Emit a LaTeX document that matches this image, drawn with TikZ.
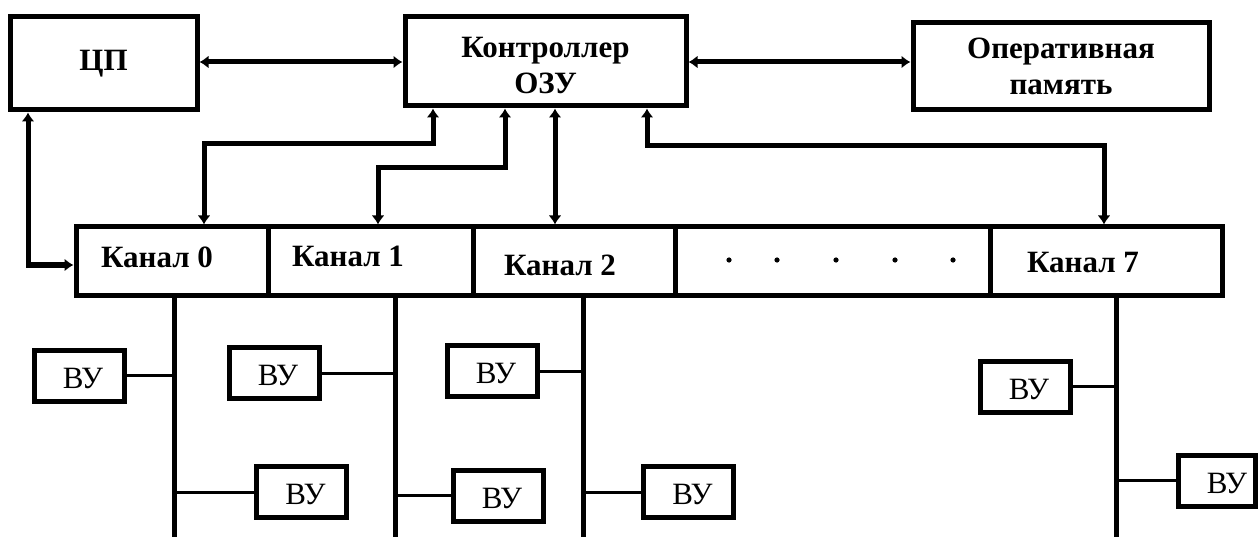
\documentclass[tikz,border=0pt]{standalone}
\usepackage{fontspec}
\setmainfont{Liberation Serif}
\usetikzlibrary{arrows.meta}
\begin{document}
\begin{tikzpicture}[x=1pt,y=-1pt,
  box/.style={draw,line width=5pt,inner sep=0pt,align=center,
    font=\bfseries\fontsize{31}{36}\selectfont},
  cell/.style={draw,line width=5pt,inner sep=0pt,minimum height=68pt},
  lbl/.style={inner sep=0pt,font=\bfseries\fontsize{31}{35}\selectfont},
  vu/.style={draw,line width=5pt,inner sep=0pt,minimum width=90pt,minimum height=51pt,
    font=\fontsize{31}{34}\selectfont},
  link/.style={line width=5pt},
  tie/.style={line width=3pt},
  biarr/.style={line width=5pt,{Latex[length=9pt,width=13pt]}-{Latex[length=9pt,width=13pt]}},
]
\fill[white] (0,0) rectangle (1260,537);
\clip (0,0) rectangle (1260,537);

% top boxes
\node[box,minimum width=187pt,minimum height=93pt] (cpu) at (103.5,63.5) {ЦП};
\node[box,minimum width=281pt,minimum height=89pt] (ctrl) at (545.5,61.5) {\rule{0pt}{28pt}Контроллер\\ОЗУ};
\node[box,minimum width=296pt,minimum height=87pt] (mem) at (1061,66.5) {Оперативная\\память};

% channel row
\node[cell,minimum width=192pt] (ch0) at (172,261) {};
\node[cell,minimum width=205pt] (ch1) at (370.5,261) {};
\node[cell,minimum width=202pt] (ch2) at (574,261) {};
\node[cell,minimum width=315pt] (chd) at (832.5,261) {};
\node[cell,minimum width=232pt] (ch7) at (1106,261) {};

\node[lbl] (t0) at (157,257) {Канал 0};
\node[lbl] (t1) at (348,256) {Канал 1};
\node[lbl] (t2) at (560,265) {Канал 2};
\node[lbl] (t7) at (1083,263) {Канал 7};

\foreach \x in {729,777,836,895,953} \fill (\x,260) circle (2.6pt);

% coordinates for connectors
\coordinate (h1) at (300,62);
\coordinate (a0) at (433,144);
\coordinate (b0) at (204,144);
\coordinate (a1) at (505,168);
\coordinate (b1) at (378,168);
\coordinate (c2) at (555,200);
\coordinate (a7) at (647,146);
\coordinate (b7) at (1104,146);
\coordinate (cp) at (28,265);

\draw[biarr] (cpu.east |- h1) -- (ctrl.west |- h1);
\draw[biarr] (ctrl.east |- h1) -- (mem.west |- h1);
\draw[biarr] (ctrl.south -| a0) -- (a0) -- (b0) -- (ch0.north -| b0);
\draw[biarr] (ctrl.south -| a1) -- (a1) -- (b1) -- (ch1.north -| b1);
\draw[biarr] (ctrl.south -| c2) -- (ch2.north -| c2);
\draw[biarr] (ctrl.south -| a7) -- (a7) -- (b7) -- (ch7.north -| b7);
\draw[biarr] (cpu.south -| cp) -- (cp) -- (ch0.west |- cp);

% channel buses
\coordinate (e0) at (174,545);
\coordinate (e1) at (395,545);
\coordinate (e2) at (583,545);
\coordinate (e7) at (1116,545);
\draw[link] (ch0.south -| e0) -- (e0);
\draw[link] (ch1.south -| e1) -- (e1);
\draw[link] (ch2.south -| e2) -- (e2);
\draw[link] (ch7.south -| e7) -- (e7);

% devices
\node[vu] (vu1) at (79,375.5) {\rule{0pt}{26pt}\hspace*{8pt}ВУ};
\node[vu] (vu2) at (274,373) {\rule{0pt}{26pt}\hspace*{8pt}ВУ};
\node[vu] (vu3) at (492,371) {\rule{0pt}{26pt}\hspace*{8pt}ВУ};
\node[vu] (vu4) at (301.5,492) {\rule{0pt}{26pt}\hspace*{8pt}ВУ};
\node[vu] (vu5) at (498,495.5) {\rule{0pt}{26pt}\hspace*{8pt}ВУ};
\node[vu] (vu6) at (688.5,492) {\rule{0pt}{26pt}\hspace*{8pt}ВУ};
\node[vu] (vu7) at (1025,386.5) {\rule{0pt}{26pt}\hspace*{8pt}ВУ};
\node[vu,minimum width=77pt] (vu8) at (1217,480.5) {\rule{0pt}{26pt}\hspace*{20pt}ВУ};

\draw[tie] (vu1.east) -- (vu1.east -| e0);
\draw[tie] (vu2.east) -- (vu2.east -| e1);
\draw[tie] (vu3.east) -- (vu3.east -| e2);
\draw[tie] (vu4.west) -- (vu4.west -| e0);
\draw[tie] (vu5.west) -- (vu5.west -| e1);
\draw[tie] (vu6.west) -- (vu6.west -| e2);
\draw[tie] (vu7.east) -- (vu7.east -| e7);
\draw[tie] (vu8.west) -- (vu8.west -| e7);
\end{tikzpicture}
\end{document}
